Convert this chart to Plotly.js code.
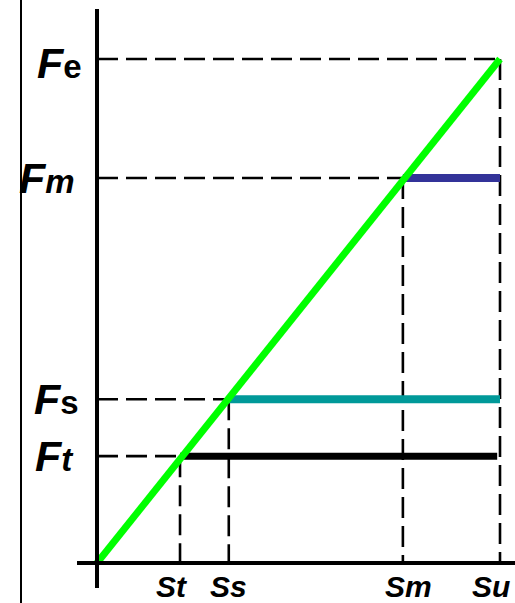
<!DOCTYPE html>
<html><head><meta charset="utf-8">
<script src="https://cdn.plot.ly/plotly-3.0.1.min.js"></script>
<style>html,body{margin:0;padding:0;background:#fff}#chart{width:515px;height:603px}</style>
</head><body><div id="chart"></div>
<script>
// Strength levels (F) and corresponding strain values (S), normalized so Su = Fe = 100
const fNames = ['t', 's', 'm', 'e'];
const fValues = [21.2, 32.5, 76.4, 100];
const sNames = ['t', 's', 'm', 'u'];
const sValues = [20.6, 32.7, 75.9, 100];
// Linear loading line
const lineX = [0, 100];
const lineY = [0, 100];
// Horizontal plateaus (start at S, end value)
const plateauLevels = [21.2, 32.5, 76.4];
const plateauStart = [20.6, 32.7, 75.9];
const plateauEnd = [99.3, 100, 100];
const plateauColors = ['#000000', '#009999', '#333399'];
const plateauWidths = [7, 8, 8];

const dashStyle = {color: '#000', width: 2.6, dash: '21px,8px'};
const traces = [];
// dashed guide lines
for (let i = 0; i < fValues.length; i++) {
  traces.push({x: [0, sValues[i]], y: [fValues[i], fValues[i]], mode: 'lines',
    line: dashStyle, hoverinfo: 'skip'});
  traces.push({x: [sValues[i], sValues[i]], y: [fValues[i], 0], mode: 'lines',
    line: dashStyle, hoverinfo: 'skip'});
}
for (let i = 0; i < plateauLevels.length; i++) {
  traces.push({x: [plateauStart[i], plateauEnd[i]], y: [plateauLevels[i], plateauLevels[i]],
    mode: 'lines', line: {color: plateauColors[i], width: plateauWidths[i]}, hoverinfo: 'skip'});
}
traces.push({x: lineX, y: lineY, mode: 'lines', line: {color: '#00ff00', width: 7}, hoverinfo: 'skip'});

const W = 515, H = 603;
const x0 = -97 / 4.03, x1 = x0 + W / 4.03;
const y1 = 563 / 5.04, y0 = y1 - H / 5.04;

const FONT = 'Liberation Sans, Arial, sans-serif';
const annotations = [];
const fLabelX = [54, 56, 47, 59];
for (let i = 0; i < fNames.length; i++) {
  const sub = fNames[i] === 'e' || fNames[i] === 's' ? '<b>' + fNames[i] + '</b>' : '<b><i>' + fNames[i] + '</i></b>';
  annotations.push({xref: 'paper', yref: 'y', x: fLabelX[i] / W, y: fValues[i], yshift: i === 3 ? -4 : 0,
    text: '<b><i>F</i></b><span style="font-size:33px">' + sub + '</span>',
    showarrow: false, xanchor: 'center', yanchor: 'middle',
    font: {family: FONT, size: 43, color: '#000'}});
}
const sLabelX = [172, 228, 408, 491];
for (let i = 0; i < sNames.length; i++) {
  annotations.push({xref: 'paper', yref: 'paper', x: sLabelX[i] / W, y: (H - 586) / H,
    text: '<b><i>S' + sNames[i] + '</i></b>',
    showarrow: false, xanchor: 'center', yanchor: 'middle',
    font: {family: FONT, size: 30, color: '#000'}});
}

const shapes = [
  {type: 'line', xref: 'paper', yref: 'paper', x0: 21 / W, x1: 21 / W, y0: 0, y1: 1, line: {color: '#000', width: 2}},
  {type: 'line', xref: 'x', yref: 'y', x0: 0, x1: 0, y0: (563 - 588) / 5.04, y1: (563 - 9) / 5.04, line: {color: '#000', width: 4}},
  {type: 'line', xref: 'x', yref: 'y', x0: (77 - 97) / 4.03, x1: x1, y0: 0, y1: 0, line: {color: '#000', width: 4}}
];

const layout = {
  width: W, height: H, margin: {l: 0, r: 0, t: 0, b: 0},
  paper_bgcolor: '#fff', plot_bgcolor: '#fff', showlegend: false,
  xaxis: {range: [x0, x1], visible: false, fixedrange: true},
  yaxis: {range: [y0, y1], visible: false, fixedrange: true},
  annotations: annotations, shapes: shapes
};
Plotly.newPlot('chart', traces, layout, {staticPlot: true});
</script></body></html>
